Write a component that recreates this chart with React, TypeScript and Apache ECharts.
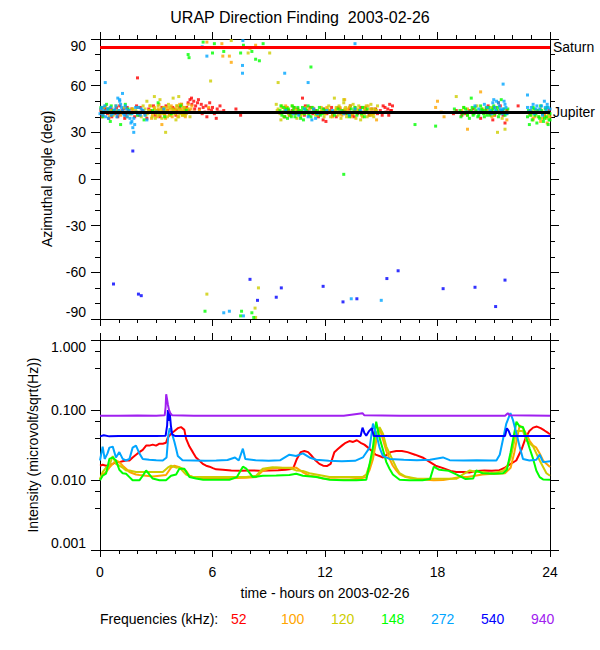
import React, { useEffect, useRef } from 'react';
import * as echarts from 'echarts';

const titleText = 'URAP Direction Finding  2003-02-26';
const xName = 'time - hours on 2003-02-26';
const yNameTop = 'Azimuthal angle (deg)';
const yNameBottom = 'Intensity (microvolt/sqrt(Hz))';
const legendTitle = 'Frequencies (kHz):';
const freqLabels = ['52', '100', '120', '148', '272', '540', '940'];
const freqColors = ['#ff0000', '#ffa500', '#cdcd00', '#00ff00', '#00a5ff', '#0000ff', '#a020f0'];
const saturnDeg = 85;
const jupiterDeg = 43;

// Azimuth scatter (hour, deg)
const az52: number[][] = [
  [0.05,44],[0.15,41],[0.28,45],[0.4,42],[0.52,43],[0.63,40],[0.75,44],[0.88,46],[1.0,42],[1.12,43],[1.25,45],[1.38,41],[1.5,44],[1.62,42],[1.8,43],[1.95,47],[2.08,41],[2.25,44],[2.4,42],[2.6,45],[2.75,43],[2.95,41],[3.1,44],[3.3,46],[3.45,42],[3.6,44],[3.8,43],[3.95,45],[4.1,44],[4.25,46],[4.4,43],[4.55,45],[4.7,49],[4.8,51],[4.9,48],[5.0,50],[5.1,47],[5.2,49],[5.3,45],[5.4,48],[5.5,46],[5.6,43],[5.7,40],[5.8,45],[5.95,44],[6.1,42],[6.25,45],[6.4,47],[6.45,43],[7.25,45],[7.5,41],[2.0,65],
  [0.1,40],[0.22,46],[0.35,43],[0.47,39],[0.6,45],[0.82,42],[0.95,40],[1.05,47],[1.18,44],[1.32,39],[1.45,46],[1.55,43],[1.7,45],[1.85,40],[2.15,46],[2.32,43],[2.5,39],[2.68,44],[2.85,47],[3.05,43],[3.2,40],[3.38,44],[3.52,47],[3.7,42],[3.88,46],[4.05,41],[4.2,43],[4.35,48],[4.5,42],[4.62,46],[4.75,44],[4.88,52],[5.05,45],[5.25,51],[5.45,42],[5.65,47],[5.85,49],[6.0,46],[6.2,39],[6.3,43],[6.6,44],
  [9.8,43],[9.95,46],[10.1,41],[10.25,44],[10.4,42],[10.55,45],[10.7,43],[10.8,52],[10.9,41],[11.05,44],[11.2,46],[11.35,42],[11.5,44],[11.65,40],[11.8,43],[11.95,45],[12.1,42],[12.25,44],[12.4,41],[12.55,43],[12.7,46],[12.85,42],[13.0,44],[13.15,43],[13.3,45],[13.45,41],[13.6,44],[13.75,42],[13.9,46],[14.05,43],[14.2,44],[14.35,41],[14.5,45],[14.65,43],[14.8,42],[14.95,44],[15.1,47],[15.25,43],[15.35,45],[15.45,48],[15.55,44],[15.4,41],
  [9.85,40],[10.05,44],[10.35,46],[10.6,42],[10.95,47],[11.1,43],[11.4,45],[11.7,42],[11.9,38],[12.05,37],[12.35,46],[12.6,40],[12.8,45],[13.1,42],[13.35,47],[13.55,40],[13.85,43],[14.15,46],[14.45,42],[14.7,45],[15.05,41],[15.2,46],[15.5,44],[15.6,47],
  [18.85,42],[19.3,41],[19.7,44],[20.05,43],[20.3,39],[20.6,45],[20.8,42],[21.0,46],[21.2,43],[21.35,47],[21.5,41],[21.6,36],[21.7,44],[22.3,47],
  [19.0,44],[19.5,42],[19.9,45],[20.4,43],[20.7,47],[21.05,41],[21.25,49],[21.45,44],[20.95,38],
  [23.3,43],[23.7,41],[23.95,44],
];
const az100: number[][] = [
  [0.05,45],[0.3,47],[0.5,40],[0.9,44],[1.4,43],[2.0,46],[2.6,44],[2.8,41],[2.9,46],[3.0,43],[3.1,45],[3.2,42],[3.3,35],[3.35,44],[3.45,41],[3.55,46],[3.65,43],[3.75,45],[3.85,40],[3.9,44],[4.0,42],[4.1,47],[4.2,43],[4.3,45],[4.4,41],[4.5,44],[4.6,42],[4.7,48],[4.85,45],[5.0,43],[5.3,44],[5.8,46],
  [2.65,47],[2.75,39],[2.95,44],[3.05,40],[3.15,48],[3.25,44],[3.4,46],[3.5,39],[3.6,44],[3.7,41],[3.8,47],[3.95,43],[4.05,45],[4.15,40],[4.25,48],[4.35,43],[4.45,46],[4.55,40],[4.65,45],[4.75,43],[4.9,47],[0.15,42],[0.6,44],[1.1,41],[1.7,45],
  [5.7,88],[6.5,87],[6.55,79],[6.9,79],[7.0,75],[8.3,86],[18.0,50],[19.6,32],[20.3,56],
  [9.7,46],[10.0,43],[10.4,45],[10.7,41],[11.0,44],[11.4,43],[11.8,46],[12.0,42],[12.2,44],[12.4,40],[12.6,45],[12.75,43],[12.9,41],[13.1,44],[13.3,46],[13.5,42],[13.7,44],[14.0,40],[14.2,43],[14.4,45],[14.6,42],[14.75,38],[14.3,47],
  [9.6,43],[9.9,47],[10.2,41],[10.55,44],[10.85,42],[11.2,45],[11.6,41],[12.1,46],[12.5,43],[12.8,46],[13.0,42],[13.2,45],[13.4,40],[13.6,46],[13.85,43],[14.1,45],[14.5,41],[14.7,44],[13.05,51],
  [17.9,46],[18.2,43],[18.35,40],[19.3,44],[19.9,42],[20.4,45],[20.9,40],[21.3,43],[21.7,38],
  [19.6,45],[20.6,43],[21.1,46],
  [22.9,42],[23.1,39],[23.3,44],[23.5,37],[23.7,41],[23.85,36],[24.0,40],
  [23.0,44],[23.2,40],[23.4,43],[23.6,39],[23.9,42],
];
const az120: number[][] = [
  [0.1,43],[0.4,45],[0.7,41],[1.0,44],[1.3,46],[1.6,42],[1.9,44],[2.2,40],[2.4,45],[2.55,42],[2.7,47],[2.85,43],[2.95,39],[3.05,44],[3.15,41],[3.25,45],[3.35,42],[3.5,30],[3.5,44],[3.6,40],[3.7,46],[3.8,42],[3.95,44],[4.05,38],[4.15,45],[4.25,42],[4.35,48],[4.45,44],[4.55,41],[4.7,45],[2.9,53],[3.2,51],
  [0.2,46],[0.55,42],[0.85,47],[1.15,43],[1.45,40],[1.75,45],[2.05,43],[2.3,47],[2.45,41],[2.62,44],[2.78,40],[2.9,45],[3.0,42],[3.1,47],[3.2,43],[3.3,39],[3.42,46],[3.55,43],[3.65,48],[3.75,41],[3.88,45],[4.0,42],[4.1,47],[4.2,40],[4.3,44],[4.4,41],[4.5,46],[4.62,43],[4.8,40],[2.5,50],[3.9,52],[4.2,53],
  [5.9,63],[7.0,89],[7.9,81],[8.0,84],[9.05,81],[9.5,62],[19.0,53],[21.2,30],[21.6,32],
  [5.7,-74],[8.45,-70],[8.27,-83],[8.3,-89],
  [9.4,48],[9.5,45],[9.6,42],[9.7,47],[9.8,40],[9.9,44],[10.0,46],[10.1,41],[10.2,43],[10.35,45],[10.5,39],[10.6,44],[10.8,42],[11.0,46],[11.2,43],[11.5,41],[11.8,44],[12.0,42],[12.15,45],[12.3,40],[12.45,43],[12.6,46],[12.7,41],[12.8,44],[12.9,42],[13.0,49],[13.05,45],[13.15,40],[13.25,43],[13.35,47],[13.45,42],[13.55,44],[13.65,39],[13.75,45],[13.85,43],[13.95,41],[14.05,46],[14.15,44],[14.25,40],[14.35,43],[14.45,48],[14.55,42],[14.65,45],[14.75,44],[14.8,47],
  [9.45,44],[9.65,38],[9.85,45],[10.05,42],[10.25,47],[10.45,43],[10.7,40],[10.9,45],[11.1,42],[11.35,46],[11.65,43],[11.95,40],[12.2,47],[12.4,42],[12.55,44],[12.75,47],[12.85,39],[13.1,46],[13.3,41],[13.5,48],[13.7,43],[13.8,47],[13.9,38],[14.1,42],[14.2,47],[14.4,41],[14.5,45],[14.6,40],[14.7,43],[13.0,51],[12.5,52],
  [19.4,46],[19.8,43],[20.1,47],[20.5,42],[20.7,45],[21.0,41],[21.25,44],[21.45,39],
  [19.6,41],[20.3,44],[20.9,46],[21.35,42],
  [23.0,41],[23.2,44],[23.4,40],[23.6,43],[23.8,39],[23.95,42],
  [23.1,38],[23.5,45],[23.9,40],
];
const az148: number[][] = [
  [0.05,46],[0.2,43],[0.35,48],[0.55,37],[0.7,44],[1.1,35],[1.35,48],[1.65,42],[2.35,38],[3.1,49],[3.45,40],[4.6,44],
  [0.15,40],[0.45,45],[0.9,43],[1.5,45],[2.0,41],[2.8,44],[3.8,42],[4.3,47],[0.6,47],
  [4.7,80],[4.75,78],[5.5,88],[6.0,81],[6.1,87],[6.6,82],[7.5,81],[7.65,86],[8.1,82],[8.3,77],[8.5,76],[8.7,87],[11.25,72],[13.0,3],[16.8,35],[17.9,34],[19.8,52],[21.4,51],
  [5.6,-85],[7.55,-85],[7.5,-88],[8.1,-86],[8.2,-89],
  [9.6,44],[9.7,41],[9.8,46],[9.9,43],[10.0,39],[10.05,45],[10.15,42],[10.25,47],[10.3,44],[10.4,40],[10.5,43],[10.55,46],[10.65,42],[10.75,44],[10.85,38],[10.95,45],[11.05,43],[11.15,41],[11.3,46],[11.45,43],[11.6,44],[11.75,41],[11.9,45],[12.3,43],[12.9,44],[13.2,42],[13.4,45],[13.55,43],[13.7,41],[13.85,44],[14.0,46],[14.15,43],
  [9.65,47],[9.75,43],[9.85,40],[9.95,45],[10.1,43],[10.2,40],[10.35,46],[10.45,42],[10.6,44],[10.7,39],[10.8,46],[10.9,42],[11.0,44],[11.1,47],[11.25,40],[11.4,44],[11.55,42],[11.7,46],[11.85,42],[12.0,44],[12.5,41],[12.7,45],[13.05,43],[13.3,40],[13.6,46],[13.95,42],[14.1,40],[14.25,45],
  [19.2,44],[19.35,42],[19.5,45],[19.6,41],[19.75,43],[19.85,46],[19.95,42],[20.05,44],[20.15,40],[20.25,43],[20.35,45],[20.45,42],[20.55,44],[20.65,41],[20.75,46],[20.85,43],[20.95,45],[21.05,42],[21.15,44],[21.25,40],[21.4,43],[21.55,45],[21.7,42],
  [19.25,40],[19.4,46],[19.55,43],[19.7,39],[19.8,44],[19.9,41],[20.0,46],[20.1,43],[20.2,41],[20.3,47],[20.4,44],[20.5,40],[20.6,46],[20.7,43],[20.8,41],[20.9,44],[21.0,47],[21.1,43],[21.2,46],[21.3,42],[21.45,44],[21.6,41],[21.75,45],[19.0,43],[18.9,45],
  [22.8,40],[22.9,35],[23.0,43],[23.05,38],[23.15,45],[23.2,41],[23.3,36],[23.35,44],[23.45,39],[23.5,47],[23.6,42],[23.65,37],[23.75,45],[23.8,40],[23.9,43],[23.95,38],[24.0,42],
  [22.85,44],[22.95,41],[23.1,46],[23.25,42],[23.4,40],[23.55,44],[23.7,39],[23.85,46],[23.9,35],[24.0,38],
];
const az272: number[][] = [
  [0.0,42],[0.1,46],[0.2,44],[0.3,40],[0.4,45],[0.5,43],[0.6,41],[0.75,44],[0.85,47],[0.95,42],[1.05,50],[1.1,48],[1.2,44],[1.3,41],[1.4,45],[1.5,42],[1.6,39],[1.7,37],[1.75,33],[1.8,30],[1.85,35],[1.95,43],[2.05,46],[2.15,41],[2.3,44],[2.5,38],[3.0,43],[3.4,45],
  [0.05,45],[0.15,41],[0.25,47],[0.35,43],[0.45,39],[0.55,46],[0.7,42],[0.8,45],[0.9,40],[1.0,44],[1.15,46],[1.25,42],[1.35,47],[1.45,40],[1.55,44],[1.65,36],[1.7,42],[1.8,39],[1.9,46],[2.0,42],[2.2,45],[2.4,41],[0.95,52],[1.05,51],
  [0.28,62],[1.2,55],[5.45,85],[5.7,79],[7.6,73],[7.6,68],[7.62,89],[9.85,68],[11.1,62],[13.6,87],[21.5,61],[22.8,54],
  [6.6,-86],[6.9,-85],[7.65,-88],[13.4,-77],[15.0,-78],
  [9.9,44],[10.3,42],[10.9,45],[11.1,40],[11.2,43],[11.3,38],[11.4,45],[11.6,42],[12.1,44],[12.8,43],[13.3,41],[13.9,44],
  [10.6,41],[11.0,43],[11.5,39],[12.4,44],[13.0,42],[13.6,45],
  [19.6,43],[20.2,45],[20.5,48],[20.8,44],[20.95,49],[21.05,46],[21.15,50],[21.2,43],[21.3,47],[21.4,44],[21.5,45],[21.6,48],[21.7,42],
  [20.0,47],[20.3,43],[20.65,46],[20.9,42],[21.0,51],[21.1,44],[21.25,49],[21.35,45],[21.45,42],[21.55,50],[21.65,46],
  [22.8,46],[22.95,44],[23.1,48],[23.25,45],[23.4,43],[23.55,47],[23.7,50],[23.8,44],[23.9,46],
  [22.85,43],[23.0,46],[23.15,42],[23.3,47],[23.45,45],[23.6,41],[23.75,46],[23.85,48],[24.0,45],
];
const az540: number[][] = [
  [1.75,18],[0.72,-67.5],[2.05,-74],[2.2,-75],[8.0,-64.5],[8.4,-78],[9.4,-76],[9.67,-70],[11.9,-69],[12.96,-79],[13.7,-77],[15.3,-64],[15.9,-59],[18.3,-70.5],[20.0,-69.6],[21.1,-82],[21.6,-65],
];

// Intensity (hour, microvolt/sqrt(Hz))
const int52: number[][] = [
  [0,0.016],[0.14,0.0165],[0.32,0.016],[0.5,0.0162],[0.68,0.017],[0.85,0.018],[1.03,0.018],[1.21,0.0185],[1.39,0.019],[1.57,0.019],[1.74,0.021],[1.92,0.023],[2.1,0.025],[2.28,0.027],[2.46,0.031],[2.63,0.031],[2.81,0.032],[2.99,0.031],[3.17,0.033],[3.35,0.033],[3.52,0.034],[3.61,0.04],[3.79,0.046],[3.97,0.05],[4.15,0.055],[4.32,0.057],[4.5,0.052],[4.59,0.039],[4.77,0.03],[4.95,0.025],[5.12,0.021],[5.3,0.019],[5.48,0.017],[5.66,0.016],[5.84,0.0155],[6.02,0.0148],[6.19,0.0142],[6.55,0.014],[7.0,0.0137],[7.5,0.0136],[8.0,0.0137],[8.5,0.0136],[9.0,0.0137],[9.5,0.0138],[9.9,0.014],[10.3,0.0145],[10.5,0.02],[10.7,0.025],[10.9,0.026],[11.1,0.025],[11.3,0.022],[11.5,0.019],[11.7,0.017],[11.9,0.016],[12.1,0.0158],[12.3,0.017],[12.5,0.025],[12.7,0.028],[12.9,0.031],[13.1,0.034],[13.3,0.036],[13.5,0.035],[13.7,0.037],[13.9,0.034],[14.1,0.032],[14.3,0.029],[14.5,0.026],[14.7,0.023],[14.9,0.022],[15.1,0.021],[15.3,0.023],[15.5,0.025],[15.8,0.026],[16.1,0.026],[16.4,0.025],[16.8,0.023],[17.2,0.021],[17.6,0.018],[17.9,0.016],[18.3,0.0148],[18.7,0.0135],[19.0,0.013],[19.4,0.013],[19.7,0.0128],[20.1,0.0135],[20.5,0.0137],[20.9,0.0136],[21.3,0.0138],[21.6,0.015],[21.9,0.017],[22.2,0.019],[22.5,0.028],[22.7,0.04],[22.9,0.05],[23.1,0.056],[23.3,0.058],[23.5,0.055],[23.7,0.051],[23.9,0.047],[24,0.045],
];
const int100: number[][] = [
  [0,0.0102],[0.14,0.012],[0.32,0.013],[0.5,0.015],[0.68,0.017],[0.85,0.019],[1.03,0.018],[1.21,0.016],[1.39,0.0145],[1.57,0.013],[1.74,0.0125],[1.92,0.012],[2.1,0.0118],[2.46,0.0115],[2.81,0.0112],[3.17,0.0115],[3.52,0.0118],[3.79,0.015],[3.97,0.016],[4.15,0.0155],[4.41,0.0145],[4.59,0.0135],[4.77,0.0115],[5.12,0.0107],[5.66,0.0105],[6.19,0.0106],[6.73,0.0104],[7.26,0.0107],[7.8,0.0108],[8.33,0.011],[8.68,0.0135],[9.04,0.0145],[9.4,0.015],[9.75,0.0148],[10.1,0.015],[10.46,0.015],[10.8,0.013],[11.17,0.0115],[11.53,0.0112],[11.89,0.0105],[12.24,0.0103],[12.8,0.0102],[13.3,0.0102],[13.8,0.0104],[14.2,0.011],[14.38,0.014],[14.56,0.02],[14.73,0.036],[14.91,0.055],[15.09,0.038],[15.27,0.026],[15.44,0.02],[15.62,0.016],[15.8,0.0137],[15.98,0.012],[16.3,0.011],[16.7,0.0105],[17.2,0.0102],[17.8,0.0099],[18.3,0.01],[18.8,0.0105],[19.2,0.011],[19.6,0.011],[20.0,0.0115],[20.4,0.012],[20.8,0.0122],[21.2,0.0123],[21.6,0.0125],[21.9,0.015],[22.1,0.025],[22.38,0.06],[22.56,0.055],[22.74,0.045],[22.92,0.036],[23.1,0.031],[23.27,0.029],[23.45,0.024],[23.63,0.019],[23.81,0.017],[24,0.0153],
];
const int120: number[][] = [
  [0,0.0103],[0.14,0.013],[0.32,0.015],[0.5,0.016],[0.68,0.022],[0.85,0.017],[1.03,0.016],[1.21,0.015],[1.39,0.0137],[1.57,0.0137],[1.92,0.013],[2.28,0.013],[2.63,0.013],[2.99,0.013],[3.35,0.013],[3.61,0.015],[3.79,0.016],[4.06,0.015],[4.23,0.0152],[4.59,0.012],[4.95,0.011],[5.5,0.011],[6.2,0.011],[7.0,0.011],[7.8,0.011],[8.33,0.0115],[8.68,0.0145],[9.2,0.0152],[9.75,0.015],[10.1,0.0148],[10.46,0.0137],[10.82,0.0135],[11.17,0.0125],[11.53,0.012],[11.89,0.0115],[12.24,0.011],[12.9,0.011],[13.5,0.011],[14.0,0.011],[14.2,0.012],[14.56,0.023],[14.73,0.046],[14.91,0.057],[15.09,0.046],[15.27,0.03],[15.44,0.024],[15.62,0.019],[15.8,0.015],[15.98,0.0125],[16.3,0.0112],[16.9,0.0104],[17.6,0.0104],[18.3,0.0104],[19.0,0.0104],[19.36,0.012],[19.72,0.0137],[20.07,0.013],[20.43,0.013],[20.78,0.0125],[21.14,0.0128],[21.5,0.0135],[21.67,0.015],[21.89,0.02],[22.21,0.05],[22.56,0.05],[22.74,0.037],[23.1,0.03],[23.45,0.019],[23.81,0.0125],[24,0.0115],
];
const int148: number[][] = [
  [0,0.0099],[0.14,0.0115],[0.32,0.0123],[0.5,0.02],[0.68,0.021],[0.85,0.019],[1.03,0.014],[1.21,0.0125],[1.39,0.0123],[1.57,0.011],[1.74,0.0099],[2.1,0.0099],[2.28,0.0115],[2.46,0.0137],[2.63,0.012],[2.81,0.0105],[3.17,0.0099],[3.52,0.0099],[3.79,0.0115],[4.06,0.012],[4.23,0.0145],[4.5,0.0145],[4.77,0.011],[5.12,0.0105],[5.5,0.0101],[6.2,0.0101],[6.9,0.0101],[7.3,0.011],[7.62,0.0155],[7.8,0.0145],[8.15,0.011],[8.68,0.0115],[9.4,0.0116],[10.1,0.0118],[10.46,0.0123],[10.82,0.0115],[11.53,0.011],[12.24,0.0101],[13.0,0.0099],[13.67,0.0099],[14.2,0.0101],[14.38,0.017],[14.56,0.03],[14.73,0.068],[14.91,0.04],[15.09,0.027],[15.27,0.018],[15.44,0.0145],[15.62,0.012],[15.98,0.0101],[16.5,0.0099],[17.2,0.0099],[17.6,0.0103],[17.8,0.0155],[18.1,0.014],[18.6,0.0135],[19.0,0.012],[19.5,0.0103],[19.9,0.0105],[20.07,0.0137],[20.4,0.0125],[21.0,0.0123],[21.5,0.0125],[21.7,0.014],[21.9,0.025],[22.21,0.068],[22.38,0.058],[22.56,0.057],[22.74,0.04],[22.92,0.028],[23.1,0.02],[23.27,0.0137],[23.45,0.011],[23.63,0.0102],[24,0.0101],
];
const int272: number[][] = [
  [0,0.019],[0.14,0.03],[0.25,0.02],[0.4,0.024],[0.5,0.029],[0.68,0.03],[0.85,0.021],[1.03,0.025],[1.21,0.02],[1.39,0.019],[1.57,0.02],[1.74,0.029],[1.92,0.031],[2.1,0.024],[2.28,0.02],[2.63,0.0195],[3.0,0.0192],[3.35,0.019],[3.55,0.021],[3.65,0.045],[3.72,0.055],[3.85,0.045],[3.97,0.035],[4.06,0.028],[4.15,0.022],[4.4,0.0192],[5.0,0.019],[5.6,0.0188],[6.2,0.019],[6.8,0.0193],[7.2,0.021],[7.4,0.019],[7.62,0.028],[7.75,0.02],[8.3,0.0192],[9.0,0.0188],[9.6,0.0191],[10.1,0.023],[10.46,0.022],[10.82,0.024],[11.17,0.021],[11.53,0.0195],[12.2,0.0188],[12.9,0.0186],[13.6,0.0188],[14.02,0.021],[14.38,0.029],[14.56,0.064],[14.73,0.046],[14.91,0.029],[15.09,0.022],[15.44,0.02],[16.2,0.0195],[16.9,0.0192],[17.6,0.0195],[18.29,0.021],[18.65,0.0192],[19.4,0.019],[20.1,0.0191],[20.8,0.019],[21.14,0.019],[21.32,0.023],[21.67,0.064],[21.89,0.09],[22.03,0.071],[22.21,0.046],[22.38,0.03],[22.56,0.02],[22.9,0.019],[23.27,0.0195],[23.45,0.023],[23.63,0.018],[24,0.0185],
];
const int540: number[][] = [
  [0,0.042],[0.2,0.0435],[0.5,0.042],[1.0,0.0425],[2.0,0.0425],[3.0,0.0425],[3.5,0.043],[3.58,0.06],[3.62,0.1],[3.68,0.07],[3.72,0.09],[3.78,0.06],[3.85,0.045],[4.0,0.0425],[6,0.0425],[8,0.0425],[10,0.0425],[12,0.0425],[13.9,0.0425],[14.0,0.056],[14.1,0.047],[14.2,0.043],[14.35,0.05],[14.5,0.055],[14.6,0.0425],[16,0.0425],[18,0.0425],[20,0.0425],[21.6,0.0425],[21.7,0.055],[21.8,0.05],[21.9,0.0425],[24,0.0425],
];
const int940: number[][] = [
  [0,0.083],[1,0.083],[2,0.0835],[3,0.083],[3.45,0.084],[3.5,0.11],[3.53,0.168],[3.58,0.14],[3.62,0.12],[3.68,0.1],[3.75,0.09],[3.85,0.084],[5,0.083],[7,0.083],[9,0.083],[11,0.083],[13,0.083],[14.0,0.09],[14.1,0.084],[16,0.083],[18,0.083],[20,0.083],[21.6,0.083],[21.75,0.09],[21.85,0.084],[24,0.083],
];

const azSeries = [az52, az100, az120, az148, az272, az540];
const intSeries = [int52, int100, int120, int148, int272, int540, int940];

const FONT = '"Liberation Sans", Arial, Helvetica, sans-serif';
const BLACK = '#000000';

function xAxisCfg(gridIndex: number, position: string, labels: boolean, name?: string) {
  return {
    type: 'value', gridIndex, position, min: 0, max: 24, interval: 6,
    name: name || '', nameLocation: 'middle', nameGap: 36,
    nameTextStyle: { color: BLACK, fontSize: 14, fontFamily: FONT },
    axisLine: { show: true, onZero: false, lineStyle: { color: BLACK, width: 1 } },
    axisTick: { show: true, inside: false, length: 7, lineStyle: { color: BLACK, width: 1 } },
    minorTick: { show: true, splitNumber: 6, length: 4, lineStyle: { color: BLACK, width: 1 } },
    splitLine: { show: false }, minorSplitLine: { show: false },
    axisLabel: { show: labels, color: BLACK, fontSize: 14, fontFamily: FONT, margin: 15 },
  };
}

function yAxisCfg(gridIndex: number, position: string, labels: boolean, extra: any) {
  return Object.assign({
    gridIndex, position,
    nameLocation: 'middle', nameRotate: 90,
    nameTextStyle: { color: BLACK, fontSize: 14, fontFamily: FONT },
    axisLine: { show: true, onZero: false, lineStyle: { color: BLACK, width: 1 } },
    axisTick: { show: true, inside: false, length: 9, lineStyle: { color: BLACK, width: 1 } },
    minorTick: { show: true, splitNumber: 3, length: 5, lineStyle: { color: BLACK, width: 1 } },
    splitLine: { show: false }, minorSplitLine: { show: false },
    axisLabel: {
      show: labels, color: BLACK, fontSize: 14, fontFamily: FONT, margin: 14,
      verticalAlignMaxLabel: 'top', verticalAlignMinLabel: 'bottom',
    },
  }, extra);
}

export default function App() {
  const ref = useRef<HTMLDivElement>(null);
  useEffect(() => {
    if (!ref.current) return;
    const chart = echarts.init(ref.current, null, { renderer: 'svg' });
    const logFmt = (v: number) => Number(v).toFixed(3);
    const series: any[] = [];
    azSeries.forEach((d, i) => {
      series.push({
        type: 'scatter', xAxisIndex: 0, yAxisIndex: 0, data: d, silent: true,
        symbol: 'rect', symbolSize: [3, 3],
        itemStyle: { color: freqColors[i] },
      });
    });
    series.push({
      type: 'line', xAxisIndex: 0, yAxisIndex: 0, data: [], z: 5, silent: true,
      markLine: {
        silent: true, symbol: ['none', 'none'], animation: false,
        data: [
          { yAxis: saturnDeg, lineStyle: { color: '#ff0000', width: 3, type: 'solid' },
            label: { show: true, formatter: 'Saturn', position: 'end', distance: 3, color: BLACK, fontSize: 14, fontFamily: FONT } },
          { yAxis: jupiterDeg, lineStyle: { color: BLACK, width: 3, type: 'solid' },
            label: { show: true, formatter: 'Jupiter', position: 'end', distance: 3, color: BLACK, fontSize: 14, fontFamily: FONT } },
        ],
      },
    });
    intSeries.forEach((d, i) => {
      series.push({
        type: 'line', xAxisIndex: 2, yAxisIndex: 2, data: d, silent: true,
        symbol: 'none', showSymbol: false,
        lineStyle: { color: freqColors[i], width: 2 },
        itemStyle: { color: freqColors[i] },
      });
    });

    const graphic: any[] = [
      { type: 'text', left: 100, top: 612, style: { text: legendTitle, fill: BLACK, fontSize: 14, fontFamily: FONT } },
    ];
    freqLabels.forEach((f, i) => {
      graphic.push({ type: 'text', left: 231 + 50 * i, top: 612, style: { text: f, fill: freqColors[i], fontSize: 14, fontFamily: FONT } });
    });

    chart.setOption({
      animation: false,
      backgroundColor: '#ffffff',
      title: {
        text: titleText, left: 'center', top: 4,
        textStyle: { color: BLACK, fontSize: 16, fontWeight: 'normal', fontFamily: FONT },
      },
      grid: [
        { left: 100, right: 50, top: 39, height: 280, containLabel: false },
        { left: 100, right: 50, top: 340, height: 210, containLabel: false },
      ],
      xAxis: [
        xAxisCfg(0, 'bottom', false),
        xAxisCfg(0, 'top', false),
        xAxisCfg(1, 'bottom', true, xName),
        xAxisCfg(1, 'top', false),
      ],
      yAxis: [
        yAxisCfg(0, 'left', true, { type: 'value', min: -90, max: 90, interval: 30, name: yNameTop, nameGap: 46 }),
        yAxisCfg(0, 'right', false, { type: 'value', min: -90, max: 90, interval: 30 }),
        yAxisCfg(1, 'left', true, { type: 'log', logBase: 10, min: 0.001, max: 1, interval: 1, name: yNameBottom, nameGap: 60 }),
        yAxisCfg(1, 'right', false, { type: 'log', logBase: 10, min: 0.001, max: 1, interval: 1 }),
      ],
      series,
      graphic,
    });
    chart.setOption({ yAxis: [{}, {}, { axisLabel: { formatter: logFmt } }, {}] });
    return () => chart.dispose();
  }, []);
  return (
    <div
      ref={ref}
      style={{ position: 'absolute', left: 0, top: 0, width: 600, height: 650, background: '#fff' }}
    />
  );
}
